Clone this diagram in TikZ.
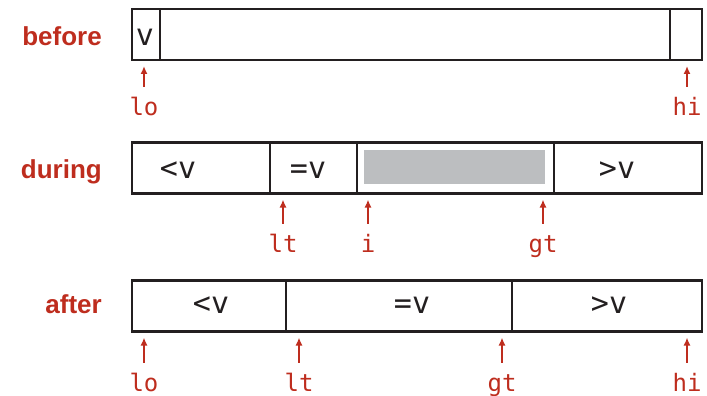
\documentclass[tikz,border=0pt]{standalone}
\usepackage{fontspec}
\setmainfont{Liberation Sans}
\setmonofont{DejaVu Sans Mono}
\usetikzlibrary{arrows.meta}
\definecolor{bookred}{RGB}{190,45,30}
\definecolor{boxline}{RGB}{35,31,32}
\definecolor{unseen}{RGB}{188,190,192}
\tikzset{cell/.style={draw=boxline,line width=2.2pt,minimum height=51,inner sep=0pt,outer sep=0pt},
  unseenbox/.style={fill=unseen,minimum width=181,minimum height=34,inner sep=0pt},
  stage/.style={anchor=base east,text=bookred,font=\fontsize{26}{30}\selectfont\bfseries,inner sep=0pt},
  val/.style={anchor=base,text=boxline,font=\fontsize{30}{36}\selectfont\ttfamily,inner sep=0pt},
  idx/.style={anchor=base,text=bookred,font=\fontsize{24}{28}\selectfont\ttfamily,text height=18pt,inner sep=0pt},
  ptr/.style={-{Latex[length=8pt,width=7pt]},draw=bookred,line width=1.8pt,shorten <=10pt,shorten >=6pt}}
\begin{document}
\begin{tikzpicture}[x=1pt,y=-1pt]
  \useasboundingbox (0,0) rectangle (707,396);
  % before
  \node[stage] (before) at (102,46) {before};
  \node[cell,minimum width=28] (bv) at (146,34.5) {};
  \node[cell,minimum width=510] (bmid) at (415,34.5) {};
  \node[cell,minimum width=32] (bhi) at (686,34.5) {};
  \node[val] (bvv) at (145,46) {v};
  \node[idx] (blo) at (144,115) {lo};
  \node[idx] (bhilbl) at (687,115) {hi};
  \draw[ptr] (blo.north) -- (blo.north |- bv.south);
  \draw[ptr] (bhilbl.north) -- (bhilbl.north |- bhi.south);
  % during
  \node[stage] (during) at (102,178) {during};
  \node[cell,minimum width=138] (dlt) at (201,168) {};
  \node[cell,minimum width=87] (deq) at (313.5,168) {};
  \node[cell,minimum width=197] (dun) at (455.5,168) {};
  \node[cell,minimum width=148] (dgt) at (628,168) {};
  \node[unseenbox] (dgray) at (454.5,167) {};
  \node[val] (dltv) at (178,178) {<v};
  \node[val] (deqv) at (308,178) {=v};
  \node[val] (dgtv) at (617,178) {>v};
  \node[idx] (dltlbl) at (283,252) {lt};
  \node[idx] (dilbl) at (368,252) {i};
  \node[idx] (dgtlbl) at (543,252) {gt};
  \draw[ptr] (dltlbl.north) -- (dltlbl.north |- dlt.south);
  \draw[ptr] (dilbl.north) -- (dilbl.north |- dun.south);
  \draw[ptr] (dgtlbl.north) -- (dgtlbl.north |- dgt.south);
  % after
  \node[stage] (after) at (102,313) {after};
  \node[cell,minimum width=154] (alt) at (209,306) {};
  \node[cell,minimum width=226] (aeq) at (399,306) {};
  \node[cell,minimum width=190] (agt) at (607,306) {};
  \node[val] (altv) at (211,313) {<v};
  \node[val] (aeqv) at (412,313) {=v};
  \node[val] (agtv) at (609,313) {>v};
  \node[idx] (alo) at (144,391) {lo};
  \node[idx] (altlbl) at (299,391) {lt};
  \node[idx] (agtlbl) at (502,391) {gt};
  \node[idx] (ahi) at (687,391) {hi};
  \draw[ptr] (alo.north) -- (alo.north |- alt.south);
  \draw[ptr] (altlbl.north) -- (altlbl.north |- alt.south);
  \draw[ptr] (agtlbl.north) -- (agtlbl.north |- agt.south);
  \draw[ptr] (ahi.north) -- (ahi.north |- agt.south);
\end{tikzpicture}
\end{document}
